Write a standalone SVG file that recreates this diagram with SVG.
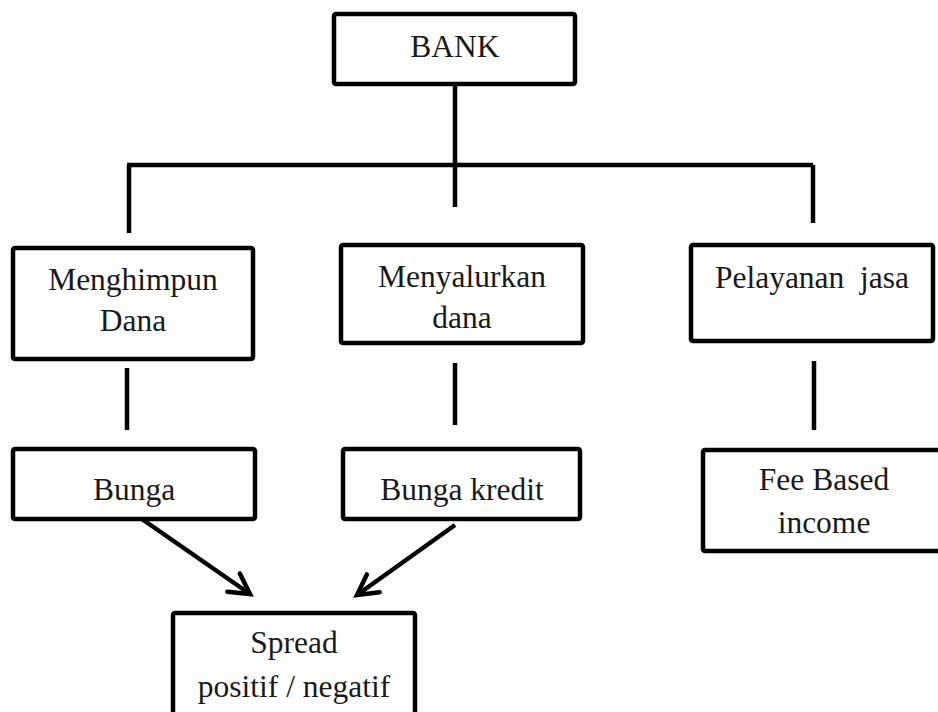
<svg xmlns="http://www.w3.org/2000/svg" width="938" height="712" viewBox="0 0 938 712">
<style>
.box{fill:#fff;stroke:#000;stroke-width:4.5}
.ln{stroke:#000;stroke-width:4.5;fill:none}
text{font-family:'Liberation Serif','Times New Roman','DejaVu Serif',serif;font-size:31.5px;fill:#1a1a1a;text-anchor:middle;white-space:pre}
</style>
<defs>
<marker id="ah" markerUnits="userSpaceOnUse" markerWidth="40" markerHeight="40" viewBox="-30 -20 40 40" refX="0" refY="0" orient="auto">
<path d="M-20,-11 L0,0 L-20,11" fill="none" stroke="#000" stroke-width="4.5" stroke-linecap="round" stroke-linejoin="miter"/>
</marker>
</defs>
<g id="connectors">
<line class="ln" x1="455" y1="84" x2="455" y2="207"/>
<line class="ln" x1="127" y1="165" x2="813" y2="165"/>
<line class="ln" x1="129" y1="165" x2="129" y2="233"/>
<line class="ln" x1="813" y1="165" x2="813" y2="223"/>
<line class="ln" x1="127" y1="368" x2="127" y2="430"/>
<line class="ln" x1="455" y1="363" x2="455" y2="425"/>
<line class="ln" x1="814" y1="361" x2="814" y2="430"/>
<line class="ln" x1="139" y1="517" x2="250" y2="594" marker-end="url(#ah)"/>
<line class="ln" x1="455" y1="525" x2="357" y2="595" marker-end="url(#ah)"/>
</g>
<g id="bank">
<rect class="box" x="334" y="14" width="241" height="70" rx="2"/>
<text x="455" y="57">BANK</text>
</g>
<g id="menghimpun">
<rect class="box" x="13" y="248" width="240" height="111" rx="2"/>
<text x="133" y="290">Menghimpun</text>
<text x="133" y="331">Dana</text>
</g>
<g id="menyalurkan">
<rect class="box" x="341" y="245" width="242" height="98" rx="2"/>
<text x="462" y="287">Menyalurkan</text>
<text x="462" y="328">dana</text>
</g>
<g id="pelayanan">
<rect class="box" x="691" y="245" width="242" height="96" rx="2"/>
<text x="812" y="288">Pelayanan  jasa</text>
</g>
<g id="bunga">
<rect class="box" x="13" y="449" width="242" height="70" rx="2"/>
<text x="134" y="500">Bunga</text>
</g>
<g id="bunga-kredit">
<rect class="box" x="343" y="449" width="237" height="70" rx="2"/>
<text x="462" y="500">Bunga kredit</text>
</g>
<g id="fee">
<rect class="box" x="703" y="450" width="245" height="101" rx="2"/>
<text x="824" y="490">Fee Based</text>
<text x="824" y="533">income</text>
</g>
<g id="spread">
<rect class="box" x="173" y="613" width="242" height="120" rx="2"/>
<text x="294" y="653">Spread</text>
<text x="294" y="697">positif / negatif</text>
</g>
</svg>
